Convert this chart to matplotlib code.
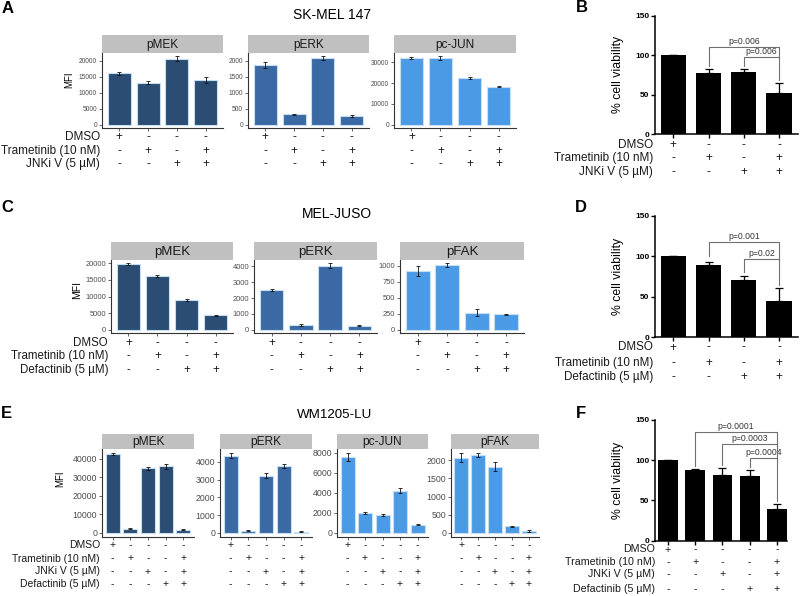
import matplotlib.pyplot as plt
from matplotlib.transforms import blended_transform_factory

plt.rcParams['font.family'] = ['Liberation Sans', 'DejaVu Sans']

# ---- data ----
# SK-MEL 147
a_pmek = [16000, 13100, 20600, 14000]
a_pmek_err = [400, 400, 700, 900]
a_perk = [1850, 320, 2080, 280]
a_perk_err = [90, 20, 50, 30]
a_pcjun = [32000, 32000, 22500, 18200]
a_pcjun_err = [500, 900, 300, 200]
b_via = [100, 77, 78, 52]
b_via_err = [0, 6, 5, 13]

# MEL-JUSO
c_pmek = [19700, 16100, 8900, 4400]
c_pmek_err = [300, 300, 400, 150]
c_perk = [2520, 300, 4050, 260]
c_perk_err = [50, 60, 150, 40]
c_pfak = [920, 1005, 265, 240]
c_pfak_err = [75, 30, 50, 8]
d_via = [100, 89, 71, 45]
d_via_err = [0, 4, 5, 16]

# WM1205-LU
e_pmek = [42500, 2300, 34700, 35800, 1800]
e_pmek_err = [500, 300, 600, 1500, 300]
e_perk = [4350, 120, 3220, 3780, 80]
e_perk_err = [150, 30, 130, 100, 20]
e_pcjun = [7600, 2050, 1800, 4250, 820]
e_pcjun_err = [400, 100, 60, 250, 50]
e_pfak = [2070, 2150, 1820, 190, 50]
e_pfak_err = [120, 50, 120, 15, 20]
f_via = [100, 88, 82, 81, 40]
f_via_err = [0, 1, 8, 7, 6]

# treatment tables
tab_ab = [("DMSO", "+---"), ("Trametinib (10 nM)", "-+-+"), ("JNKi V (5 µM)", "--++")]
tab_cd = [("DMSO", "+---"), ("Trametinib (10 nM)", "-+-+"), ("Defactinib (5 µM)", "--++")]
tab_ef = [("DMSO", "+----"), ("Trametinib (10 nM)", "-+--+"),
          ("JNKi V (5 µM)", "--+-+"), ("Defactinib (5 µM)", "---++")]

# p-value brackets: (bar1, bar2, y, left leg end, right leg end, label)
br_b = [(1, 3, 110, 86, 97, "p=0.006"), (2, 3, 97, 86, 68, "p=0.006")]
br_d = [(1, 3, 117, 100, 97, "p=0.001"), (2, 3, 97, 80, 64, "p=0.02")]
br_f = [(1, 4, 135.5, 93, 120.5, "p=0.0001"), (2, 4, 120.5, 94, 103, "p=0.0003"),
        (3, 4, 103, 91, 49, "p=0.0004")]

C_MEK = '#2b4d73'
C_ERK = '#3a69a3'
C_LIGHT = '#4b9ae6'

W, H = 800, 596
fig = plt.figure(figsize=(8, 5.96), dpi=100)


def box(x0, y0, x1, y1):
    return [x0 / W, 1 - y1 / H, (x1 - x0) / W, (y1 - y0) / H]


def fy(y):
    return 1 - y / H


def mfi_panel(xr, strip, ybot, name, vals, errs, ticks, color, table, rows,
              tfs, sfs, lfs, label_x=None):
    n = len(vals)
    sx = fig.add_axes(box(xr[0], strip[0], xr[1], strip[1]))
    sx.set_facecolor('#c0c0c0')
    sx.set_xticks([]); sx.set_yticks([])
    for s in sx.spines.values():
        s.set_visible(False)
    sx.text(0.5, 0.45, name, ha='center', va='center', fontsize=sfs, color='#1a1a1a',
            transform=sx.transAxes)

    ax = fig.add_axes(box(xr[0], strip[1], xr[1], ybot))
    x = list(range(n))
    ax.bar(x, vals, width=0.8, color=color, edgecolor='#c6def2', linewidth=0.8, zorder=2)
    ax.errorbar(x, vals, yerr=errs, fmt='none', ecolor='#111111', elinewidth=0.6,
                capsize=1.3, capthick=0.6, zorder=3)
    m = max(v + e for v, e in zip(vals, errs))
    ax.set_ylim(-0.05 * m, 1.05 * m)
    ax.set_xlim(-0.6, n - 0.4)
    ax.set_yticks(ticks)
    ax.set_yticklabels([str(t) for t in ticks])
    ax.set_xticks(x)
    ax.set_xticklabels([])
    ax.tick_params(axis='y', labelsize=tfs, colors='#4d4d4d', length=2, width=0.6, pad=1.5)
    ax.tick_params(axis='x', length=2, width=0.6, colors='#4d4d4d')
    for s in ['top', 'right']:
        ax.spines[s].set_visible(False)
    for s in ['left', 'bottom']:
        ax.spines[s].set_color('#333333')
        ax.spines[s].set_linewidth(0.8)

    tr = blended_transform_factory(ax.transData, fig.transFigure)
    for (lab, signs), yrow in zip(table, rows):
        for i, sg in enumerate(signs):
            ax.text(i, fy(yrow), sg, ha='center', va='center', fontsize=lfs,
                    transform=tr, color='#1a1a1a')
        if label_x is not None:
            fig.text(label_x / W, fy(yrow), lab, ha='right', va='center',
                     fontsize=lfs, color='#1a1a1a')
    return ax


def via_panel(xr, yr, vals, errs, table, rows, brackets, xlim, lfs, label_x):
    ax = fig.add_axes(box(xr[0], yr[0], xr[1], yr[1]))
    n = len(vals)
    x = list(range(n))
    ax.bar(x, vals, width=0.72, color='black', zorder=2)
    ax.errorbar(x, vals, yerr=[[0] * n, errs], fmt='none', ecolor='black',
                elinewidth=0.9, capsize=3, capthick=0.9, zorder=3)
    ax.set_ylim(0, 150)
    ax.set_xlim(*xlim)
    ax.set_yticks([0, 50, 100, 150])
    ax.set_xticks(x)
    ax.set_xticklabels([])
    ax.tick_params(axis='both', length=3, width=1.0)
    ax.tick_params(axis='y', labelsize=6, pad=1)
    for t in ax.get_yticklabels():
        t.set_fontweight('bold')
    for s in ['top', 'right']:
        ax.spines[s].set_visible(False)
    for s in ['left', 'bottom']:
        ax.spines[s].set_linewidth(1.1)
    ax.set_ylabel('% cell viability', fontsize=8.8, labelpad=8)

    for b1, b2, y, yl, yr2, lab in brackets:
        ax.plot([b1, b1, b2, b2], [yl, y, y, yr2], color='#707070', lw=0.8,
                zorder=4, clip_on=False)
        ax.annotate(lab, xy=((b1 + b2) / 2, y), xytext=(0, 4), textcoords='offset points',
                    ha='center', va='center', fontsize=6.2, color='#333333')

    tr = blended_transform_factory(ax.transData, fig.transFigure)
    for (lab, signs), yrow in zip(table, rows):
        for i, sg in enumerate(signs):
            ax.text(i, fy(yrow), sg, ha='center', va='center', fontsize=lfs,
                    transform=tr, color='#1a1a1a')
        fig.text(label_x / W, fy(yrow), lab, ha='right', va='center',
                 fontsize=lfs, color='#1a1a1a')
    return ax


# ---- row A / B ----
rows_a = [137, 151, 164]
mfi_panel((102, 223), (35, 53), 128, 'pMEK', a_pmek, a_pmek_err,
          [0, 5000, 10000, 15000, 20000], C_MEK, tab_ab, rows_a, 4.8, 8.5, 8.5, label_x=100)
mfi_panel((248, 369), (35, 53), 128, 'pERK', a_perk, a_perk_err,
          [0, 500, 1000, 1500, 2000], C_ERK, tab_ab, rows_a, 4.8, 8.5, 8.5)
mfi_panel((394, 516), (35, 53), 128, 'pc-JUN', a_pcjun, a_pcjun_err,
          [0, 10000, 20000, 30000], C_LIGHT, tab_ab, rows_a, 4.8, 8.5, 8.5)
fig.text(69 / W, fy(80), 'MFI', rotation=90, ha='center', va='center', fontsize=7)
fig.text(332 / W, fy(15), 'SK-MEL 147', ha='center', va='center', fontsize=10)

via_panel((655, 798), (15.7, 134), b_via, b_via_err, tab_ab, [145, 158, 172.5],
          br_b, (-0.52, 3.54), 8.5, 653)

# ---- row C / D ----
rows_c = [343, 356, 370]
mfi_panel((111, 233), (242, 260), 333, 'pMEK', c_pmek, c_pmek_err,
          [0, 5000, 10000, 15000, 20000], C_MEK, tab_cd, rows_c, 5.4, 9.5, 8.3, label_x=108)
mfi_panel((254, 377), (242, 260), 333, 'pERK', c_perk, c_perk_err,
          [0, 1000, 2000, 3000, 4000], C_ERK, tab_cd, rows_c, 5.4, 9.5, 8.3)
mfi_panel((400, 524), (242, 260), 333, 'pFAK', c_pfak, c_pfak_err,
          [0, 250, 500, 750, 1000], C_LIGHT, tab_cd, rows_c, 5.4, 9.5, 8.3)
fig.text(77 / W, fy(290), 'MFI', rotation=90, ha='center', va='center', fontsize=7.5)
fig.text(337 / W, fy(214), 'MEL-JUSO', ha='center', va='center', fontsize=10)

via_panel((655, 798), (215.7, 337.3), d_via, d_via_err, tab_cd, [347.5, 363, 377],
          br_d, (-0.52, 3.54), 8.4, 653)

# ---- row E / F ----
rows_e = [545, 558.5, 571.5, 584]
mfi_panel((102, 194), (434, 449), 537, 'pMEK', e_pmek, e_pmek_err,
          [0, 10000, 20000, 30000, 40000], C_MEK, tab_ef, rows_e, 6.3, 8.6, 7.5, label_x=100)
mfi_panel((220, 312), (434, 449), 537, 'pERK', e_perk, e_perk_err,
          [0, 1000, 2000, 3000, 4000], C_ERK, tab_ef, rows_e, 6.3, 8.6, 7.5)
mfi_panel((337, 428), (434, 449), 537, 'pc-JUN', e_pcjun, e_pcjun_err,
          [0, 2000, 4000, 6000, 8000], C_LIGHT, tab_ef, rows_e, 6.3, 8.6, 7.5)
mfi_panel((451, 539), (434, 449), 537, 'pFAK', e_pfak, e_pfak_err,
          [0, 500, 1000, 1500, 2000], C_LIGHT, tab_ef, rows_e, 6.3, 8.6, 7.5)
fig.text(60 / W, fy(479), 'MFI', rotation=90, ha='center', va='center', fontsize=7)
fig.text(335 / W, fy(415), 'WM1205-LU', ha='center', va='center', fontsize=9.6)

via_panel((655, 787), (420, 540.7), f_via, f_via_err, tab_ef, [549.5, 562, 574, 589],
          br_f, (-0.48, 4.37), 7.7, 655)

# panel letters
for lab, xp, yp in [('A', 7.5, 8.5), ('B', 582, 8), ('C', 7, 208),
                    ('D', 581, 208), ('E', 6, 413), ('F', 581, 413)]:
    fig.text(xp / W, fy(yp), lab, ha='center', va='center', fontsize=12, fontweight='bold')

fig.savefig('out.png', dpi=100)
